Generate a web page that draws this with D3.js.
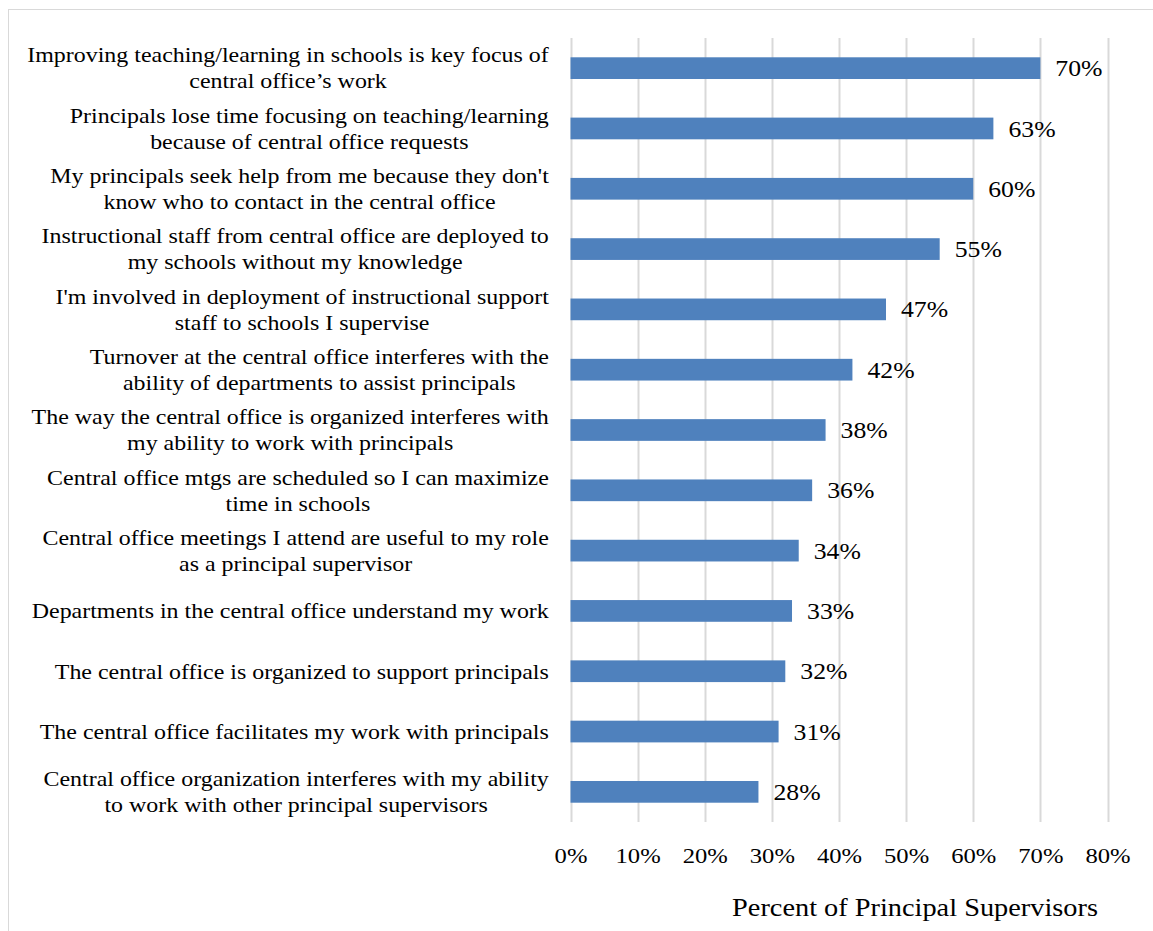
<!DOCTYPE html>
<html>
<head>
<meta charset="utf-8">
<script src="https://cdn.jsdelivr.net/npm/d3@7"></script>
<style>
  html, body { margin: 0; padding: 0; background: #fff; }
  svg { display: block; }
  text { font-family: "Liberation Serif", "Times New Roman", serif; fill: #000; }
</style>
</head>
<body>
<svg id="chart" width="1153" height="931"></svg>
<script>
// Survey statements (each entry is the wrapped lines of one label)
const categories = [
  ["Improving teaching/learning in schools is key focus of", "central office\u2019s work"],
  ["Principals lose time focusing on teaching/learning", "because of central office requests"],
  ["My principals seek help from me because they don't", "know who to contact in the central office"],
  ["Instructional staff from central office are deployed to", "my schools without my knowledge"],
  ["I'm involved in deployment of instructional support", "staff to schools I supervise"],
  ["Turnover at the central office interferes with the", "ability of departments to assist principals"],
  ["The way the central office is organized interferes with", "my ability to work with principals"],
  ["Central office mtgs are scheduled so I can maximize", "time in schools"],
  ["Central office meetings I attend are useful to my role", "as a principal supervisor"],
  ["Departments in the central office understand my work"],
  ["The central office is organized to support principals"],
  ["The central office facilitates my work with principals"],
  ["Central office organization interferes with my ability", "to work with other principal supervisors"]
];
// Share of principal supervisors agreeing (%)
const values = [70, 63, 60, 55, 47, 42, 38, 36, 34, 33, 32, 31, 28];
const tickValues = [0, 10, 20, 30, 40, 50, 60, 70, 80];
const axisTitle = "Percent of Principal Supervisors";

const svg = d3.select("#chart");
const W = 1153, H = 931;
const plot = { left: 570.5, right: 1107.5, top: 38, bottom: 822 };

// widen glyphs horizontally about a fixed x
const stretch = (sx, ax) => `translate(${ax},0) scale(${sx},1) translate(${-ax},0)`;

// outer frame
svg.append("rect")
  .attr("x", 8.5).attr("y", 9.5)
  .attr("width", W + 20).attr("height", H + 20)
  .attr("fill", "none").attr("stroke", "#d9d9d9").attr("stroke-width", 1);

const x = d3.scaleLinear().domain([0, 80]).range([plot.left, plot.right]);
const y = d3.scaleBand()
  .domain(d3.range(values.length))
  .range([plot.top, plot.bottom])
  .paddingInner(0.64).paddingOuter(0.32);

// vertical gridlines
svg.append("g")
  .selectAll("line")
  .data(tickValues)
  .join("line")
  .attr("x1", d => Math.round(x(d)) + 0.5).attr("x2", d => Math.round(x(d)) + 0.5)
  .attr("y1", plot.top).attr("y2", plot.bottom)
  .attr("stroke", "#d9d9d9").attr("stroke-width", 2);

// x axis tick labels
const xAxis = d3.axisBottom(x).tickValues(tickValues).tickFormat(d => d + "%").tickSize(0).tickPadding(0);
const gx = svg.append("g").attr("transform", `translate(0,${plot.bottom})`).call(xAxis);
gx.select(".domain").remove();
gx.selectAll("text")
  .attr("y", 33).attr("dy", "0.35em")
  .attr("transform", "scale(1.12,1)")
  .style("font-family", "Liberation Serif, serif")
  .style("font-size", "22px").attr("fill", "#000");

// bars
svg.append("g")
  .selectAll("rect")
  .data(values)
  .join("rect")
  .attr("x", x(0))
  .attr("y", (d, i) => y(i))
  .attr("width", d => x(d) - x(0))
  .attr("height", y.bandwidth())
  .attr("fill", "#4f81bd");

// value labels
svg.append("g")
  .selectAll("text")
  .data(values)
  .join("text")
  .attr("x", d => x(d) + 15)
  .attr("y", (d, i) => y(i) + y.bandwidth() / 2)
  .attr("dy", "0.35em")
  .attr("transform", d => stretch(1.12, x(d) + 15))
  .style("font-size", "23px")
  .text(d => d + "%");

// category labels: lines centred on each other, block right-aligned
const labelRight = 549;
const lineGap = 26;
const labelScale = 1.14;
const labelG = svg.append("g");
categories.forEach((lines, i) => {
  const cy = y(i) + y.bandwidth() / 2;
  const g = labelG.append("g");
  const texts = lines.map((ln, k) => g.append("text")
    .style("font-size", "21px")
    .attr("text-anchor", "middle")
    .attr("dy", "0.35em")
    .attr("y", cy + (k - (lines.length - 1) / 2) * lineGap)
    .text(ln));
  const maxW = d3.max(texts, t => t.node().getComputedTextLength());
  const cx = labelRight - maxW * labelScale / 2;
  texts.forEach(t => t.attr("x", cx).attr("transform", stretch(labelScale, cx)));
});

// axis title
svg.append("text")
  .attr("x", 915).attr("y", 907)
  .attr("text-anchor", "middle").attr("dy", "0.35em")
  .attr("transform", stretch(1.09, 915))
  .style("font-size", "26px")
  .text(axisTitle);
</script>
</body>
</html>
